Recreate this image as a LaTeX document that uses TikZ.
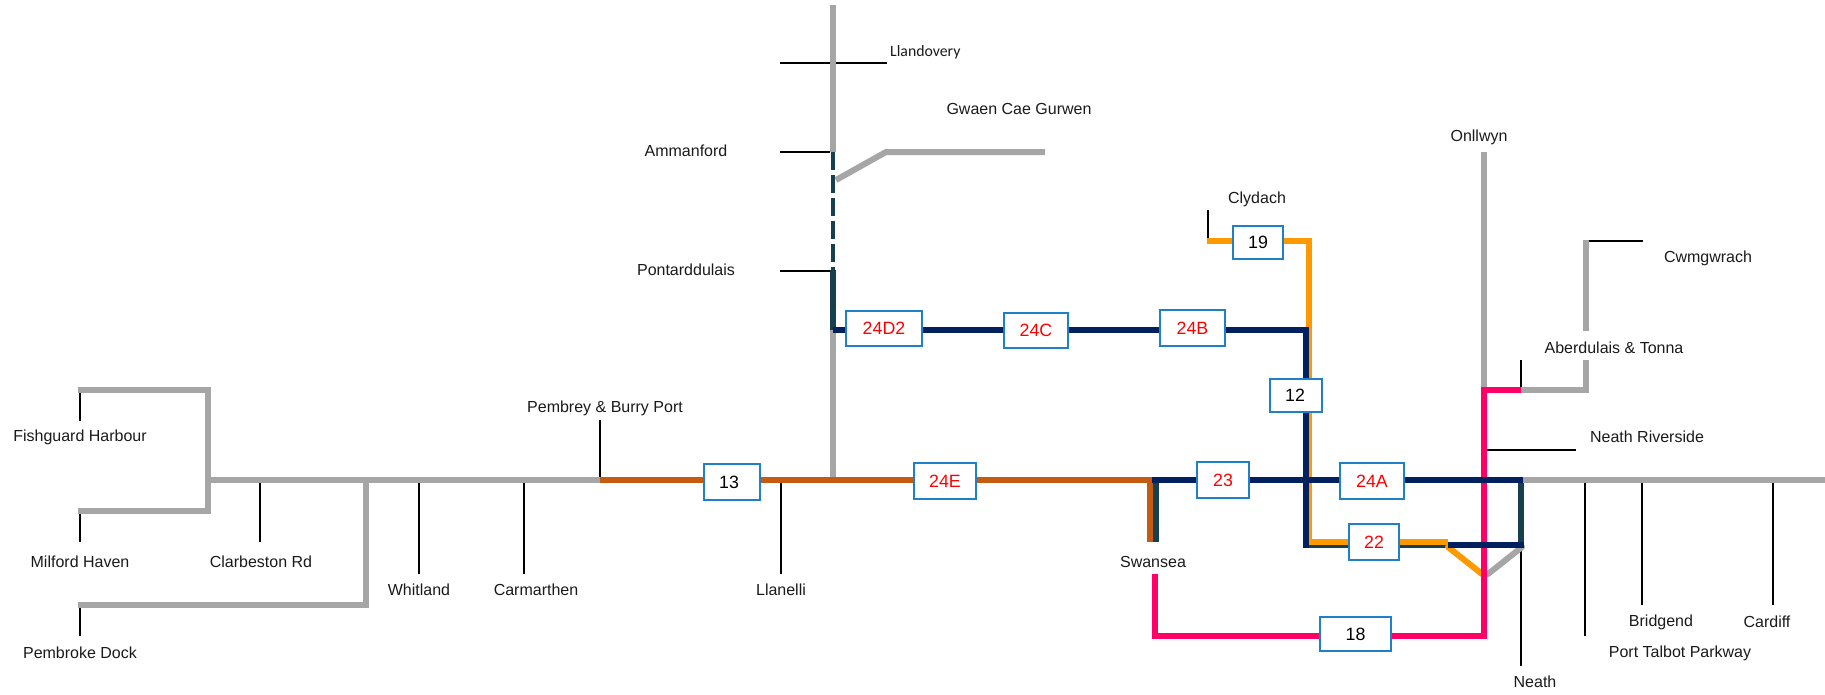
\documentclass[tikz,border=0pt]{standalone}
\usepackage{fontspec}
\setmainfont{Liberation Sans}
\newfontfamily\carlitofont{Carlito}
\definecolor{trackgray}{HTML}{A6A6A6}
\definecolor{trackorange}{HTML}{FF9900}
\definecolor{tracknavy}{HTML}{002060}
\definecolor{trackteal}{HTML}{17404F}
\definecolor{trackbrown}{HTML}{C55A11}
\definecolor{trackpink}{HTML}{FF0066}
\definecolor{boxblue}{HTML}{1F7FC8}
\definecolor{labelink}{HTML}{1A1A1A}
\newcommand{\lowertext}[1]{\raisebox{-1.8pt}{#1}}
\tikzset{
  grayline/.style={draw=trackgray,line width=6pt},
  orangeline/.style={draw=trackorange,line width=6pt},
  navyline/.style={draw=tracknavy,line width=6pt},
  tealline/.style={draw=trackteal,line width=6pt},
  brownline/.style={draw=trackbrown,line width=6pt},
  pinkline/.style={draw=trackpink,line width=6pt},
  tick/.style={draw=black,line width=1.6pt},
  place/.style={font=\fontsize{16}{18}\selectfont,text=labelink,inner sep=0pt,yshift=-1.2pt},
  sec/.style={draw=boxblue,line width=1.5pt,fill=white,inner sep=0pt,font=\fontsize{17.8}{20}\selectfont},
  secred/.style={sec,text=red},
}
\begin{document}
\begin{tikzpicture}[x=1pt,y=-1pt]
\useasboundingbox (0,0) rectangle (1825,694);
% junction points
\coordinate (mainW) at (209,480);
\coordinate (pembreyJ) at (600,480);
\coordinate (llanJ) at (833,480);
\coordinate (swJ) at (1152,480);
\coordinate (neathE) at (1523,480);
\coordinate (mainE) at (1825,480);
\coordinate (fishW) at (78,390);
\coordinate (fishE) at (208,390);
\coordinate (milW) at (78,511);
\coordinate (milE) at (208,511);
\coordinate (pemJ) at (366,480);
\coordinate (pemC) at (366,605);
\coordinate (pemW) at (78,605);
\coordinate (vTop) at (833,5);
\coordinate (vAmm) at (833,152);
\coordinate (vPon) at (833,270);
\coordinate (vJ) at (833,330);
\coordinate (gwA) at (836,180);
\coordinate (gwB) at (886,152);
\coordinate (gwC) at (1045,152);
\coordinate (navyC) at (1306,330);
\coordinate (navyS) at (1306,548);
\coordinate (cly) at (1207,241);
\coordinate (clyC) at (1309,241);
\coordinate (orC) at (1309,542);
\coordinate (orE) at (1448,542);
\coordinate (netE) at (1448,545);
\coordinate (tlS) at (1309,545);
\coordinate (tlE) at (1448,545);
\coordinate (navyE) at (1524,545);
\coordinate (tealT) at (1521,483);
\coordinate (tealB) at (1521,545);
\coordinate (orD1) at (1448,547);
\coordinate (orD2) at (1482,574);
\coordinate (grD1) at (1522,547);
\coordinate (grD2) at (1488,574);
\coordinate (onl) at (1484,152);
\coordinate (pkT) at (1484,390);
\coordinate (pkB) at (1484,636);
\coordinate (pkA) at (1521,390);
\coordinate (cwB) at (1586,390);
\coordinate (cwM1) at (1586,360);
\coordinate (cwM2) at (1586,331);
\coordinate (cwT) at (1586,240);
\coordinate (swBr) at (1150,542);
\coordinate (swBrT) at (1150,480);
\coordinate (swTl) at (1155.5,542);
\coordinate (swTlT) at (1155.5,483);
\coordinate (swP) at (1155,574);
\coordinate (swPb) at (1155,636);
% black station ticks
\draw[tick] (780,63) -- (887,63);
\draw[tick] (780,152) -- (830,152);
\draw[tick] (780,271) -- (830,271);
\draw[tick] (80,393) -- (80,421);
\draw[tick] (80,513) -- (80,542);
\draw[tick] (80,607) -- (80,636);
\draw[tick] (260,482) -- (260,542);
\draw[tick] (419,482) -- (419,574);
\draw[tick] (524,482) -- (524,574);
\draw[tick] (600,420) -- (600,478);
\draw[tick] (781,482) -- (781,574);
\draw[tick] (1208,210) -- (1208,238);
\draw[tick] (1589,241) -- (1643,241);
\draw[tick] (1521,360) -- (1521,387);
\draw[tick] (1487,450) -- (1576,450);
\draw[tick] (1521,547) -- (1521,666);
\draw[tick] (1585,483) -- (1585,636);
\draw[tick] (1642,483) -- (1642,605);
\draw[tick] (1773,483) -- (1773,605);
% gray network
\draw[grayline] (fishW) -- (fishE) -- (milE) -- (milW);
\draw[grayline] (mainW) -- (pembreyJ);
\draw[grayline] (pemJ) -- (pemC) -- (pemW);
\draw[grayline] (vTop) -- (vAmm);
\draw[grayline] (vJ) -- (llanJ);
\draw[grayline] (gwA) -- (gwB) -- (gwC);
\draw[grayline] (onl) -- (pkT);
\draw[grayline] (pkA) -- (cwB) -- (cwM1);
\draw[grayline] (cwM2) -- (cwT);
\draw[grayline] (neathE) -- (mainE);
\draw[grayline,line cap=round] (grD1) -- (grD2);
% teal
\draw[tealline] (tlS) -- (tlE);
\draw[tealline] (tealT) -- (tealB);
\draw[tealline] (swTlT) -- (swTl);
\draw[tealline] (vPon) -- (vJ);
\draw[draw=trackteal,line width=4pt,dash pattern=on 17.7pt off 5.3pt] (vAmm) -- (vPon);
% orange
\draw[orangeline] (cly) -- (clyC) -- (orC) -- (orE);
\draw[orangeline,line cap=round] (orD1) -- (orD2);
% brown
\draw[brownline] (pembreyJ) -- (swJ);
\draw[draw=trackbrown,line width=6pt] (swBrT) -- (swBr);
% pink
\draw[pinkline] (swP) -- (swPb) -- (pkB) -- (pkT) -- (pkA);
% navy
\draw[navyline] (vJ) -- (navyC) -- (navyS);
\draw[navyline] (swJ) -- (neathE);
\draw[navyline] (netE) -- (navyE);
% section boxes
\node[secred,minimum width=76pt,minimum height=35pt] (b24D) at (884,328.5) {24D2};
\node[secred,minimum width=64pt,minimum height=35pt] (b24C) at (1036,330.5) {24C};
\node[secred,minimum width=65pt,minimum height=36pt] (b24B) at (1192.5,328) {24B};
\node[sec,minimum width=50pt,minimum height=33pt] (b19) at (1258,242.5) {\lowertext{19}};
\node[sec,minimum width=52pt,minimum height=33pt] (b12) at (1296,395.5) {\lowertext{\kern-2pt 12}};
\node[sec,minimum width=56pt,minimum height=36pt] (b13) at (732,482) {\kern-6pt 13};
\node[secred,minimum width=62pt,minimum height=36pt] (b24E) at (945,481) {24E};
\node[secred,minimum width=52pt,minimum height=36pt] (b23) at (1223,480) {\lowertext{23}};
\node[secred,minimum width=64pt,minimum height=36pt] (b24A) at (1372,481) {\lowertext{24A}};
\node[secred,minimum width=50pt,minimum height=36pt] (b22) at (1374,542) {\lowertext{22}};
\node[sec,minimum width=71pt,minimum height=34pt] (b18) at (1355.5,634) {\lowertext{18}};
% station names
\node[place,font=\carlitofont\fontsize{15.8}{17}\selectfont,anchor=west] (tLlandovery) at (890,51) {Llandovery};
\node[place] (tGwaen) at (1019,108) {Gwaen Cae Gurwen};
\node[place] (tAmman) at (686,150) {Ammanford};
\node[place] (tPont) at (686,269) {Pontarddulais};
\node[place] (tOnl) at (1479,136) {Onllwyn};
\node[place] (tCly) at (1257,198) {Clydach};
\node[place] (tCwm) at (1708,257) {Cwmgwrach};
\node[place] (tAber) at (1614,347) {Aberdulais \& Tonna};
\node[place] (tNR) at (1647,436) {Neath Riverside};
\node[place] (tPem) at (605,407) {Pembrey \& Burry Port};
\node[place] (tFish) at (80,436) {Fishguard Harbour};
\node[place] (tMil) at (80,561) {Milford Haven};
\node[place] (tClar) at (261,561) {Clarbeston Rd};
\node[place] (tPD) at (80,652) {Pembroke Dock};
\node[place] (tWhit) at (419,589) {Whitland};
\node[place] (tCarm) at (536,589) {Carmarthen};
\node[place] (tLlan) at (781,589) {Llanelli};
\node[place] (tSwan) at (1153,561) {Swansea};
\node[place] (tNeath) at (1535,681) {Neath};
\node[place] (tPTP) at (1680,652) {Port Talbot Parkway};
\node[place] (tBrid) at (1661,621) {Bridgend};
\node[place] (tCard) at (1767,620.5) {Cardiff};
\end{tikzpicture}
\end{document}
